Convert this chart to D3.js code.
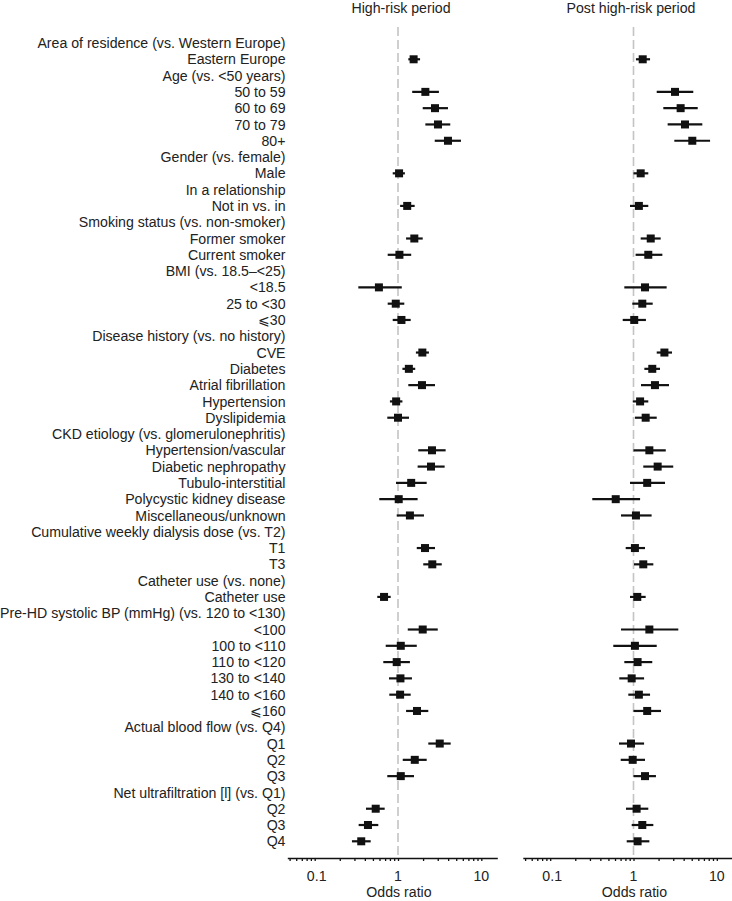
<!DOCTYPE html>
<html><head><meta charset="utf-8">
<script src="https://cdn.jsdelivr.net/npm/d3@7"></script>
<style>html,body{margin:0;padding:0;background:#fff;} svg{display:block;}</style>
</head><body>
<svg id="chart" width="732" height="901"></svg>
<script>
const rowLabels = [
 "Area of residence (vs. Western Europe)","Eastern Europe",
 "Age (vs. <50 years)","50 to 59","60 to 69","70 to 79","80+",
 "Gender (vs. female)","Male",
 "In a relationship","Not in vs. in",
 "Smoking status (vs. non-smoker)","Former smoker","Current smoker",
 "BMI (vs. 18.5\u2013<25)","<18.5","25 to <30","\u2A7D30",
 "Disease history (vs. no history)","CVE","Diabetes","Atrial fibrillation","Hypertension","Dyslipidemia",
 "CKD etiology (vs. glomerulonephritis)","Hypertension/vascular","Diabetic nephropathy","Tubulo-interstitial","Polycystic kidney disease","Miscellaneous/unknown",
 "Cumulative weekly dialysis dose (vs. T2)","T1","T3",
 "Catheter use (vs. none)","Catheter use",
 "Pre-HD systolic BP (mmHg) (vs. 120 to <130)","<100","100 to <110","110 to <120","130 to <140","140 to <160","\u2A7D160",
 "Actual blood flow (vs. Q4)","Q1","Q2","Q3",
 "Net ultrafiltration [l] (vs. Q1)","Q2","Q3","Q4"
];
// null = header row (no estimate)
const highRiskOR = [null,1.54, null,2.13,2.78,3.02,3.98, null,1.03, null,1.29, null,1.57,1.04, null,0.59,0.94,1.10,
 null,1.96,1.35,1.94,0.95,1.00, null,2.56,2.49,1.44,1.02,1.39, null,2.11,2.58, null,0.68,
 null,1.98,1.08,0.965,1.07,1.06,1.69, null,3.17,1.59,1.08, null,0.54,0.436,0.362];
const highRiskLo = [null,1.33, null,1.48,1.98,2.13,2.76, null,0.864, null,1.06, null,1.25,0.752, null,0.334,0.752,0.864,
 null,1.64,1.13,1.33,0.80,0.744, null,1.75,1.72,0.946,0.596,0.965, null,1.68,2.01, null,0.564,
 null,1.31,0.712,0.666,0.78,0.786,1.25, null,2.31,1.14,0.744, null,0.413,0.337,0.28];
const highRiskHi = [null,1.84, null,3.10,3.98,4.24,5.70, null,1.21, null,1.585, null,1.98,1.44, null,1.11,1.19,1.42,
 null,2.35,1.61,2.78,1.13,1.355, null,3.73,3.63,2.21,1.72,2.05, null,2.78,3.35, null,0.817,
 null,3.00,1.68,1.39,1.47,1.42,2.31, null,4.29,2.21,1.556, null,0.692,0.58,0.47];
const postRiskOR = [null,1.29, null,3.15,3.68,4.15,5.08, null,1.22, null,1.16, null,1.61,1.505, null,1.375,1.275,1.02,
 null,2.35,1.68,1.81,1.20,1.40, null,1.55,1.95,1.46,0.612,1.07, null,1.04,1.31, null,1.11,
 null,1.55,1.04,1.12,0.951,1.16,1.46, null,0.933,0.978,1.375, null,1.09,1.275,1.12];
const postRiskLo = [null,1.07, null,1.90,2.28,2.57,3.09, null,1.00, null,0.908, null,1.22,1.06, null,0.776,0.967,0.742,
 null,1.90,1.35,1.23,0.98,1.04, null,1.00,1.31,0.908,0.32,0.708, null,0.806,1.014, null,0.908,
 null,0.708,0.572,0.776,0.675,0.866,1.00, null,0.67,0.702,1.00, null,0.813,0.951,0.829];
const postRiskHi = [null,1.58, null,5.22,5.90,6.70,8.30, null,1.505, null,1.505, null,2.12,2.22, null,2.50,1.70,1.41,
 null,2.90,2.08,2.67,1.505,1.90, null,2.44,3.00,2.39,1.20,1.65, null,1.375,1.73, null,1.40,
 null,3.45,1.90,1.68,1.34,1.58,2.14, null,1.34,1.375,1.86, null,1.505,1.73,1.55];
const panelTitles = ["High-risk period","Post high-risk period"];
const axisTitle = "Odds ratio";
const tickLabelValues = [0.1, 1, 10];

const svg = d3.select("#chart");
const font = "'Liberation Sans', Arial, Helvetica, sans-serif";
const textColor = "#222";
const fs = 14.15;

const y = d3.scalePoint().domain(d3.range(rowLabels.length)).range([43, 841.3]);
const domain = [0.0469, 15.56];
const panels = [
  {title: panelTitles[0], or: highRiskOR, lo: highRiskLo, hi: highRiskHi, range: [287.3, 497.3], titleX: 401},
  {title: panelTitles[1], or: postRiskOR, lo: postRiskLo, hi: postRiskHi, range: [522.8, 732.8], titleX: 631}
];

// Row labels
svg.append("g").selectAll("text").data(rowLabels).join("text")
  .attr("x", 285.5).attr("y", (d,i)=>y(i)).attr("dy","0.36em")
  .attr("text-anchor","end").attr("font-family",font).attr("font-size",fs)
  .attr("fill",textColor).text(d=>d);

const axisY = 858;
const minorTicks = [];
[0.01,0.1,1,10].forEach(b=>{for(let k=1;k<10;k++){const v=b*k; if(v>=domain[0]&&v<=domain[1]) minorTicks.push(v);}});

panels.forEach(p=>{
  const x = d3.scaleLog().domain(domain).range(p.range);
  const g = svg.append("g");
  g.append("text").attr("x",p.titleX).attr("y",13).attr("text-anchor","middle")
    .attr("font-family",font).attr("font-size",fs).attr("fill",textColor).text(p.title);
  // reference line at OR = 1
  g.append("line").attr("x1",x(1)).attr("x2",x(1)).attr("y1",27).attr("y2",axisY)
    .attr("stroke","#c4c4c4").attr("stroke-width",1.6).attr("stroke-dasharray","9,4");
  // axis
  const ax = g.append("g").attr("transform",`translate(0,${axisY})`)
    .call(d3.axisBottom(x).tickValues(minorTicks).tickSize(3).tickSizeOuter(0).tickFormat(""));
  ax.select(".domain").attr("stroke","#111").attr("stroke-width",1.6);
  ax.selectAll(".tick line").attr("stroke","#111").attr("stroke-width",1.3);
  g.append("g").selectAll("text").data(tickLabelValues).join("text")
    .attr("x",d=>x(d)+(d===0.1?2:0)).attr("y",axisY+23).attr("text-anchor","middle")
    .attr("font-family",font).attr("font-size",fs).attr("fill",textColor).text(d=>String(d));
  g.append("text").attr("x",x(1)+1).attr("y",axisY+38.5).attr("text-anchor","middle")
    .attr("font-family",font).attr("font-size",fs).attr("fill",textColor).text(axisTitle);
  // estimates
  const idx = d3.range(rowLabels.length).filter(i=>p.or[i]!=null);
  g.append("g").selectAll("line").data(idx).join("line")
    .attr("x1",i=>x(p.lo[i])).attr("x2",i=>x(p.hi[i]))
    .attr("y1",i=>y(i)).attr("y2",i=>y(i))
    .attr("stroke","#111").attr("stroke-width",2.2);
  g.append("g").selectAll("rect").data(idx).join("rect")
    .attr("x",i=>x(p.or[i])-4).attr("y",i=>y(i)-4).attr("width",8).attr("height",8)
    .attr("fill","#111");
});
</script>
</body></html>
